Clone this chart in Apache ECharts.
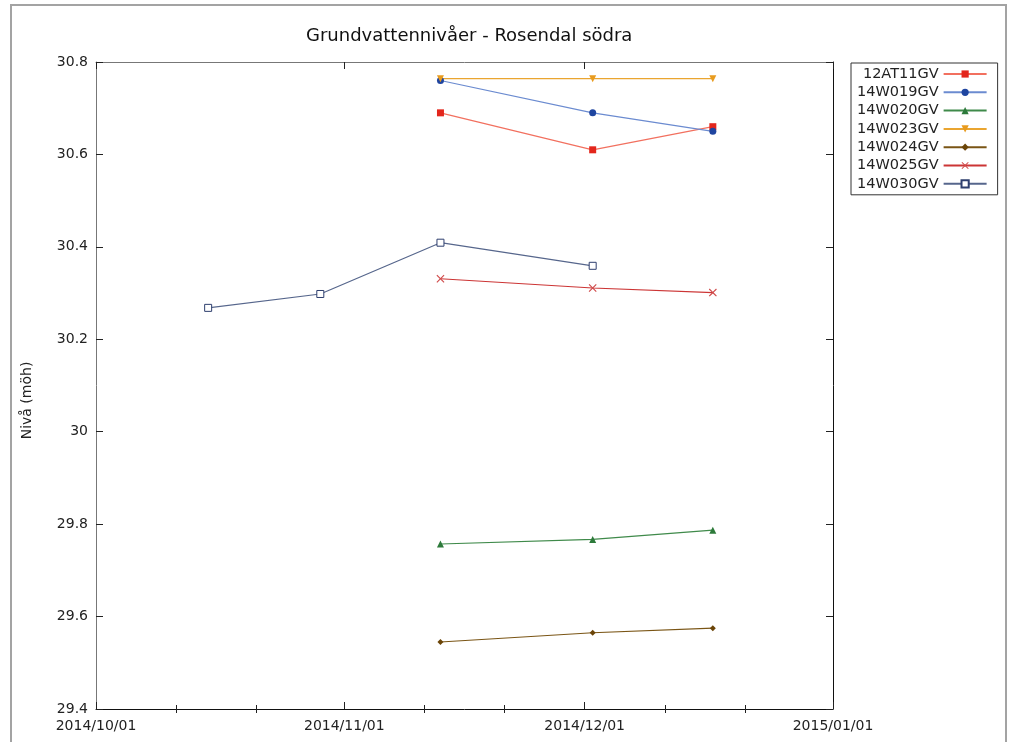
<!DOCTYPE html>
<html>
<head>
<meta charset="utf-8">
<title>Grundvattennivåer - Rosendal södra</title>
<script src="https://cdn.jsdelivr.net/npm/echarts@6/dist/echarts.min.js"></script>
<style>
  html, body { margin: 0; padding: 0; background: #fff; }
  #main { width: 1011px; height: 742px; }
</style>
</head>
<body>
<div id="main"></div>
<script>
// mätdatum
var dates = ['2014-10-15', '2014-10-29', '2014-11-13', '2014-12-02', '2014-12-17'];

// nivåer per rör (möh), null = ingen mätning
var s12AT11GV = [null, null, 30.69, 30.61, 30.66];
var s14W019GV = [null, null, 30.76, 30.69, 30.65];
var s14W020GV = [null, null, 29.757, 29.767, 29.787];
var s14W023GV = [null, null, 30.764, 30.764, 30.764];
var s14W024GV = [null, null, 29.545, 29.565, 29.575];
var s14W025GV = [null, null, 30.331, 30.311, 30.301];
var s14W030GV = [30.268, 30.298, 30.409, 30.359, null];

// axlar
var majorTicks = ['2014-10-01', '2014-11-01', '2014-12-01', '2015-01-01'];
var minorTicks = ['2014-10-11', '2014-10-21', '2014-11-11', '2014-11-21', '2014-12-11', '2014-12-21'];
var yMin = 29.4, yMax = 30.8, yStep = 0.2;

function t(s) { return +echarts.time.parse(s); }
function pairs(vals) {
  var out = [];
  for (var i = 0; i < dates.length; i++) {
    if (vals[i] != null) out.push([t(dates[i]), vals[i]]);
  }
  return out;
}

var xMin = t(majorTicks[0]);
var xMax = t(majorTicks[majorTicks.length - 1]);
var FONT = 'DejaVu Sans';
var xPath = 'path://M0,1L1,0L5,4L9,0L10,1L6,5L10,9L9,10L5,6L1,10L0,9L4,5Z';

function line(name, vals, symbol, marker, lineColor, extra) {
  var s = {
    name: name,
    type: 'line',
    xAxisIndex: 0,
    yAxisIndex: 0,
    data: pairs(vals),
    symbol: symbol,
    symbolSize: 7,
    showAllSymbol: true,
    itemStyle: { color: marker },
    lineStyle: { color: lineColor, width: 1.2 },
    emphasis: { disabled: true },
    animation: false
  };
  for (var k in extra) s[k] = extra[k];
  return s;
}

function dateAxis(grid, pos, ticks, len, lineColor, labels) {
  return {
    type: 'value',
    gridIndex: grid,
    position: pos,
    min: xMin,
    max: xMax,
    axisLine: { show: lineColor != null, lineStyle: { color: lineColor || '#000', width: 1 } },
    axisTick: { show: true, inside: true, length: len, customValues: ticks.map(t), lineStyle: { color: '#222' } },
    axisLabel: labels ? {
      show: true,
      customValues: ticks.map(t),
      showMinLabel: true,
      showMaxLabel: true,
      color: '#222',
      fontFamily: FONT,
      fontSize: 14,
      margin: 10,
      formatter: function (v) { return echarts.time.format(v, '{yyyy}/{MM}/{dd}', false); }
    } : { show: false },
    splitLine: { show: false }
  };
}

var chart = echarts.init(document.getElementById('main'));
var option = {
  backgroundColor: '#fff',
  animation: false,
  title: {
    text: 'Grundvattennivåer - Rosendal södra',
    left: 301,
    top: 22,
    textStyle: { fontFamily: FONT, fontSize: 18, fontWeight: 'normal', color: '#111' }
  },
  legend: {
    orient: 'vertical',
    left: 851,
    top: 63,
    align: 'right',
    padding: [3, 10, 3, 6],
    borderColor: '#333',
    borderWidth: 1,
    itemWidth: 43,
    itemHeight: 9,
    itemGap: 2.3,
    textStyle: { fontFamily: FONT, fontSize: 14.5, color: '#222', lineHeight: 16, width: 80, align: 'right' },
    data: ['12AT11GV', '14W019GV', '14W020GV', '14W023GV', '14W024GV', '14W025GV', '14W030GV']
  },
  grid: [
    { left: 96, top: 62, right: 178, bottom: 33 },
    { left: 96, top: 62, right: 178, bottom: 33 }
  ],
  xAxis: [
    dateAxis(0, 'bottom', majorTicks, 7, '#111', true),
    dateAxis(0, 'top', majorTicks, 7, '#777', false),
    dateAxis(1, 'bottom', minorTicks, 4, null, false),
    dateAxis(1, 'top', minorTicks, 4, null, false)
  ],
  yAxis: [
    {
      type: 'value', gridIndex: 0, position: 'left',
      min: yMin, max: yMax, interval: yStep,
      name: 'Nivå (möh)', nameLocation: 'middle', nameGap: 62,
      nameTextStyle: { fontFamily: FONT, fontSize: 14, color: '#222', padding: [0, 30, 0, 0] },
      axisLine: { show: true, lineStyle: { color: '#777' } },
      axisTick: { show: true, inside: true, length: 7, lineStyle: { color: '#222' } },
      axisLabel: { color: '#222', fontFamily: FONT, fontSize: 14, margin: 8 },
      splitLine: { show: false }
    },
    {
      type: 'value', gridIndex: 0, position: 'right',
      min: yMin, max: yMax, interval: yStep,
      axisLine: { show: true, lineStyle: { color: '#111' } },
      axisTick: { show: true, inside: true, length: 7, lineStyle: { color: '#222' } },
      axisLabel: { show: false },
      splitLine: { show: false }
    },
    { type: 'value', gridIndex: 1, min: 0, max: 1, show: false },
    { type: 'value', gridIndex: 1, min: 0, max: 1, show: false }
  ],
  graphic: [{
    type: 'rect',
    shape: { x: 11, y: 5, width: 995, height: 780 },
    style: { fill: null, stroke: '#a3a3a3', lineWidth: 2 },
    silent: true
  }],
  series: [
    line('12AT11GV', s12AT11GV, 'rect', '#e3261c', '#f2705f'),
    line('14W019GV', s14W019GV, 'circle', '#1f45a0', '#6b8bd0'),
    line('14W020GV', s14W020GV, 'triangle', '#2d7a3a', '#3f8a4a'),
    line('14W023GV', s14W023GV, 'triangle', '#e89b1e', '#eaa530', { symbolRotate: 180 }),
    line('14W024GV', s14W024GV, 'diamond', '#6b4508', '#7a5515', { symbolSize: 6 }),
    line('14W025GV', s14W025GV, xPath, '#d04a4a', '#cc3535', { symbolSize: 8 }),
    line('14W030GV', s14W030GV, 'rect', '#ffffff', '#56668c', {
      itemStyle: { color: '#ffffff', borderColor: '#2e3f6e', borderWidth: 1 }
    })
  ]
};
chart.setOption(option);
</script>
</body>
</html>
